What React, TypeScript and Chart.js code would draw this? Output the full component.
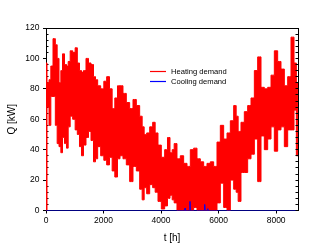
import React, { useEffect, useRef } from "react";
import { Chart, registerables } from "chart.js";

Chart.register(...registerables);

// ---- data ----
const seriesNames = ["Heating demand", "Cooling demand"];
const xTicks = [0, 2000, 4000, 6000, 8000];
const yTicks = [0, 20, 40, 60, 80, 100, 120];
const yMinor = [4, 8, 12, 16, 24, 28, 32, 36, 44, 48, 52, 56, 64, 68, 72, 76, 84, 88, 92, 96, 104, 108, 112, 116];

// upper / lower envelope of the hourly heating demand (kW)
const heatHours = [
  0, 70, 139, 197, 290, 359, 417, 487, 545, 603, 684, 742, 800, 881, 973, 1054, 1124, 1205, 1263, 1344,
  1436, 1518, 1611, 1692, 1750, 1842, 1958, 2062, 2155, 2259, 2340, 2444, 2526, 2618, 2734, 2850, 2966,
  3082, 3198, 3314, 3372, 3453, 3546, 3662, 3754, 3835, 3951, 4067, 4183, 4264, 4357, 4415, 4495, 4611,
  4727, 4843, 4959, 5075, 5191, 5307, 5423, 5538, 5654, 5770, 5886, 6002, 6118, 6234, 6350, 6466, 6582,
  6639, 6720, 6836, 6952, 7068, 7185, 7300, 7416, 7532, 7648, 7764, 7880, 7995, 8111, 8227, 8343, 8459,
  8575, 8668, 8737, 8760,
];
const heatHigh = [
  97, 84, 86, 95, 113, 109, 100, 84, 92, 103, 96, 95, 98, 105, 104, 107, 97, 92, 91, 92,
  100, 97, 96, 88, 86, 82, 80, 85, 88, 80, 67, 74, 82, 82, 77, 71, 67,
  73, 69, 62, 55, 50, 51, 55, 58, 51, 43, 35, 40, 48, 38, 40, 44, 34,
  36, 31, 29, 40, 41, 34, 32, 29, 31, 32, 29, 45, 56, 47, 51, 59, 69,
  62, 52, 58, 65, 69, 74, 92, 101, 81, 80, 81, 89, 105, 98, 93, 82, 88,
  114, 97, 84, 36,
];
const heatLow = [
  0, 68, 56, 75, 75, 56, 44, 42, 38, 48, 44, 41, 55, 62, 60, 53, 50, 42, 36, 43,
  48, 52, 46, 32, 34, 42, 36, 33, 30, 35, 26, 22, 34, 36, 34, 30, 19,
  29, 26, 14, 7, 15, 11, 17, 15, 12, 6, 1, 3, 8, 10, 7, 5, 0,
  0, 0, 0, 0, 2, 0, 0, 0, 0, 0, 0, 5, 18, 2, 0, 20, 14,
  12, 6, 25, 25, 34, 37, 47, 19, 49, 40, 47, 55, 39, 53, 55, 42, 53,
  53, 66, 36, 36,
];

// cooling demand (kW): zero except a few short spikes in summer
const coolHours = [0, 4820, 4832, 4845, 4995, 5005, 5015, 5505, 5517, 5530, 5610, 5620, 5630, 8760];
const coolValues = [0, 0, 1.5, 0, 0, 6, 0, 0, 4, 0, 0, 1.2, 0, 0];

const RED = "#ff0000";
const BLUE = "#0000ff";
const FONT = "'Liberation Sans', Arial, sans-serif";

const framePlugin = {
  id: "frame",
  beforeDatasetsDraw(chart: any) {
    const { ctx, chartArea: a, scales } = chart;
    const y = scales.y;
    ctx.save();
    ctx.strokeStyle = "#000";
    ctx.lineWidth = 1;
    ctx.beginPath();
    for (const v of yMinor) {
      const py = Math.round(y.getPixelForValue(v) - 0.5) + 0.5;
      ctx.moveTo(a.left, py);
      ctx.lineTo(a.left + 2.5, py);
    }
    ctx.stroke();
    ctx.restore();
  },
  afterDatasetsDraw(chart: any) {
    const { ctx, chartArea: a, scales } = chart;
    const y = scales.y;
    const rx = Math.round(a.right) + 0.5;
    const ty = Math.round(a.top) + 0.5;
    ctx.save();
    ctx.strokeStyle = "#000";
    ctx.lineWidth = 1;
    ctx.beginPath();
    ctx.moveTo(a.left, ty);
    ctx.lineTo(rx + 0.5, ty);
    ctx.moveTo(rx, ty);
    ctx.lineTo(rx, a.bottom);
    const all = [...yTicks, ...yMinor];
    for (const v of all) {
      const py = Math.round(y.getPixelForValue(v) - 0.5) + 0.5;
      ctx.moveTo(rx - 3, py);
      ctx.lineTo(rx, py);
    }
    ctx.stroke();

    // legend
    const items = [
      { label: seriesNames[0], color: RED, y: 71.5 },
      { label: seriesNames[1], color: BLUE, y: 81.5 },
    ];
    ctx.font = `7.6px ${FONT}`;
    ctx.textBaseline = "middle";
    ctx.textAlign = "left";
    for (const it of items) {
      ctx.beginPath();
      ctx.strokeStyle = it.color;
      ctx.lineWidth = 1.2;
      ctx.moveTo(a.left + 104, it.y);
      ctx.lineTo(a.left + 120, it.y);
      ctx.stroke();
      ctx.fillStyle = "#000";
      ctx.fillText(it.label, a.left + 125, it.y + 0.5);
    }
    ctx.restore();
  },
};

export default function App() {
  const ref = useRef<HTMLCanvasElement | null>(null);

  useEffect(() => {
    if (!ref.current) return;
    const heatHi = heatHours.map((h, i) => ({ x: h, y: heatHigh[i] }));
    const heatLo = heatHours.map((h, i) => ({ x: h, y: heatLow[i] }));
    const cool = coolHours.map((h, i) => ({ x: h, y: coolValues[i] }));

    const chart = new Chart(ref.current, {
      type: "line",
      data: {
        datasets: [
          {
            label: seriesNames[1],
            data: cool,
            borderColor: BLUE,
            borderWidth: 1,
            pointRadius: 0,
            fill: false,
            order: 0,
          },
          {
            label: seriesNames[0],
            data: heatHi,
            borderColor: RED,
            backgroundColor: RED,
            borderWidth: 1,
            pointRadius: 0,
            stepped: "middle",
            fill: "+1",
            order: 1,
          },
          {
            label: seriesNames[0] + " (min)",
            data: heatLo,
            borderColor: RED,
            borderWidth: 1,
            pointRadius: 0,
            stepped: "middle",
            fill: false,
            order: 2,
          },
        ],
      },
      plugins: [framePlugin],
      options: {
        responsive: false,
        animation: false,
        devicePixelRatio: 1,
        events: [],
        layout: { padding: { top: 28, right: 16, left: 0, bottom: 0 } },
        plugins: {
          legend: { display: false },
          tooltip: { enabled: false },
        },
        scales: {
          x: {
            type: "linear",
            min: 0,
            max: 8760,
            afterBuildTicks: (s: any) => {
              s.ticks = xTicks.map((v) => ({ value: v }));
            },
            afterFit: (s: any) => {
              s.height = 36.5;
            },
            ticks: {
              color: "#000",
              font: { family: FONT, size: 8.5 },
              padding: 2,
              maxRotation: 0,
              autoSkip: false,
              callback: (v: any) => String(v),
            },
            grid: { display: true, drawOnChartArea: false, drawTicks: true, tickLength: 3, color: "#000" },
            border: { display: true, color: "#000", width: 1 },
            title: {
              display: true,
              text: "t [h]",
              color: "#000",
              font: { family: FONT, size: 10 },
              padding: { top: 3, bottom: 3 },
            },
          },
          y: {
            type: "linear",
            min: 0,
            max: 120,
            afterBuildTicks: (s: any) => {
              s.ticks = yTicks.map((v) => ({ value: v }));
            },
            afterFit: (s: any) => {
              s.width = 46;
            },
            ticks: {
              color: "#000",
              font: { family: FONT, size: 8.5 },
              padding: 3.5,
              autoSkip: false,
              callback: (v: any) => String(v),
            },
            grid: { display: true, drawOnChartArea: false, drawTicks: true, tickLength: 3, color: "#000" },
            border: { display: true, color: "#000", width: 1 },
            title: {
              display: true,
              text: "Q [kW]",
              color: "#000",
              font: { family: FONT, size: 10 },
              padding: { top: 6.5, bottom: 6.5 },
            },
          },
        },
      },
    } as any);
    return () => chart.destroy();
  }, []);

  return (
    <canvas
      ref={ref}
      width={314}
      height={247}
      style={{ position: "absolute", left: 0, top: 0, width: 314, height: 247 }}
    />
  );
}
